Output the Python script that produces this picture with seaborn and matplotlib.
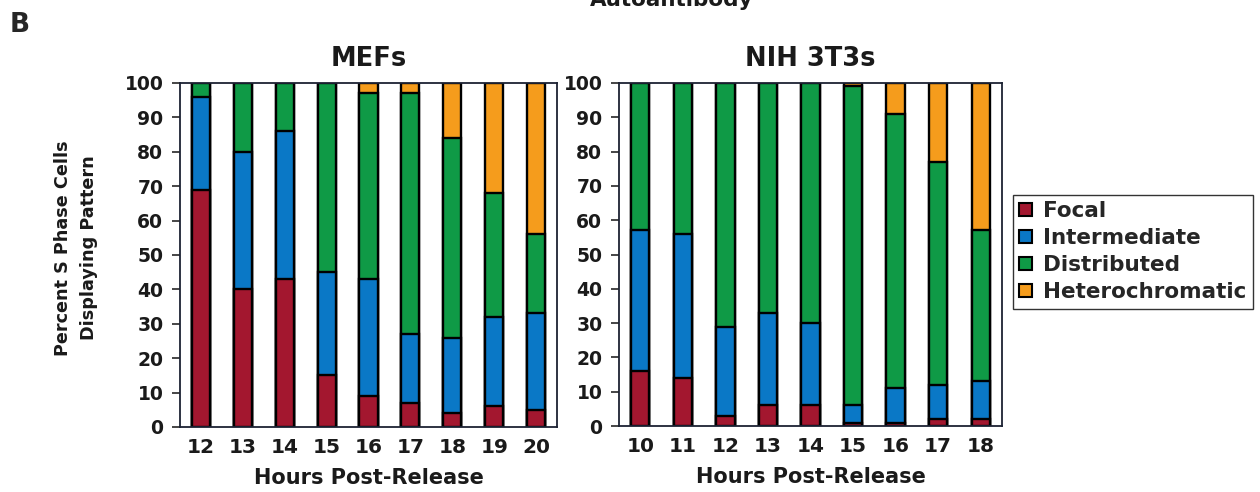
import matplotlib
matplotlib.use("Agg")
import matplotlib.pyplot as plt
import numpy as np
import pandas as pd
import seaborn as sns
from matplotlib.patches import Patch

PATTERNS = ["Focal", "Intermediate", "Distributed", "Heterochromatic"]
COLORS = {
    "Focal": "#a3172f",
    "Intermediate": "#0a78c6",
    "Distributed": "#0f9a46",
    "Heterochromatic": "#f59c1c",
}

MEF_HOURS = ["12", "13", "14", "15", "16", "17", "18", "19", "20"]
MEF_FOCAL = [69, 40, 43, 15, 9, 7, 4, 6, 5]
MEF_INTERMEDIATE = [27, 40, 43, 30, 34, 20, 22, 26, 28]
MEF_DISTRIBUTED = [4, 20, 14, 55, 54, 70, 58, 36, 23]
MEF_HETERO = [0, 0, 0, 0, 3, 3, 16, 32, 44]

NIH_HOURS = ["10", "11", "12", "13", "14", "15", "16", "17", "18"]
NIH_FOCAL = [16, 14, 3, 6, 6, 1, 1, 2, 2]
NIH_INTERMEDIATE = [41, 42, 26, 27, 24, 5, 10, 10, 11]
NIH_DISTRIBUTED = [43, 44, 71, 67, 70, 93, 80, 65, 44]
NIH_HETERO = [0, 0, 0, 0, 0, 1, 9, 23, 43]

Y_TICKS = list(range(0, 101, 10))


def _long_table(hours, focal, inter, dist, het):
    df = pd.DataFrame({
        "hour": hours,
        "Focal": focal,
        "Intermediate": inter,
        "Distributed": dist,
        "Heterochromatic": het,
    })
    cum = df[PATTERNS].cumsum(axis=1)
    cum["hour"] = df["hour"]
    return cum.melt(id_vars="hour", var_name="pattern", value_name="top")


def _stacked_panel(ax, table, hours, title):
    # cumulative tops, outermost layer first so inner layers sit on top
    for pattern in PATTERNS[::-1]:
        sub = table[table["pattern"] == pattern]
        sns.barplot(
            data=sub, x="hour", y="top", order=hours, color=COLORS[pattern],
            width=0.43, edgecolor="black", linewidth=1.7, saturation=1,
            errorbar=None, ax=ax,
        )
    ax.set_xlim(-0.5, len(hours) - 0.5)
    ax.set_ylim(0, 100)
    ax.set_yticks(Y_TICKS)
    ax.set_xticks(range(len(hours)))
    ax.set_xticks(np.arange(-0.5, len(hours)), minor=True)
    ax.tick_params(axis="x", which="major", length=0, pad=8, labelsize=14.5)
    ax.tick_params(axis="x", which="minor", length=5, width=1.2, direction="out", color="#222222")
    ax.tick_params(axis="y", length=6, width=1.2, direction="out", labelsize=13.5, pad=6, left=True)
    for lab in ax.get_xticklabels() + ax.get_yticklabels():
        lab.set_fontweight("bold")
        lab.set_color("#1a1a1a")
    ax.set_xlabel("Hours Post-Release", fontsize=15, fontweight="bold", labelpad=8, color="#1a1a1a")
    ax.set_ylabel("")
    ax.set_title(title, fontsize=18.5, fontweight="bold", pad=12, color="#1a1a1a")
    for spine in ax.spines.values():
        spine.set_visible(True)
        spine.set_color("#1c2233")
        spine.set_linewidth(1.3)
    ax.grid(False)


sns.set_theme(style="white")
plt.rcParams["font.family"] = ["DejaVu Sans"]

fig = plt.figure(figsize=(12.6, 4.92), dpi=100)
ax_mef = fig.add_axes([180 / 1260, 1 - 427 / 492, 377 / 1260, 344 / 492])
ax_nih = fig.add_axes([619 / 1260, 1 - 426 / 492, 383 / 1260, 343 / 492])

mef = _long_table(MEF_HOURS, MEF_FOCAL, MEF_INTERMEDIATE, MEF_DISTRIBUTED, MEF_HETERO)
nih = _long_table(NIH_HOURS, NIH_FOCAL, NIH_INTERMEDIATE, NIH_DISTRIBUTED, NIH_HETERO)
_stacked_panel(ax_mef, mef, MEF_HOURS, "MEFs")
_stacked_panel(ax_nih, nih, NIH_HOURS, "NIH 3T3s")

fig.text(76 / 1260, 1 - 248 / 492, "Percent S Phase Cells\nDisplaying Pattern", rotation=90,
         ha="center", va="center", fontsize=12.7, fontweight="bold", linespacing=1.5,
         color="#1a1a1a")
fig.text(10 / 1260, 1 - 32 / 492, "B", fontsize=19, fontweight="bold", ha="left", va="baseline")
fig.text(672 / 1260, 1 - 6 / 492, "Autoantibody", fontsize=15.5, fontweight="bold",
         ha="center", va="baseline", color="#1a1a1a")

handles = [Patch(facecolor=COLORS[p], edgecolor="black", linewidth=1.5, label=p) for p in PATTERNS]
fig.legend(handles=handles, loc="upper left", bbox_to_anchor=(1013 / 1260, 1 - 195 / 492),
           frameon=True, fancybox=False, edgecolor="black",
           prop={"weight": "bold", "size": 15.5}, handlelength=0.6, handleheight=0.55,
           handletextpad=0.5, labelspacing=0.32, borderpad=0.3, borderaxespad=0)

fig.savefig("out.png", dpi=100)
